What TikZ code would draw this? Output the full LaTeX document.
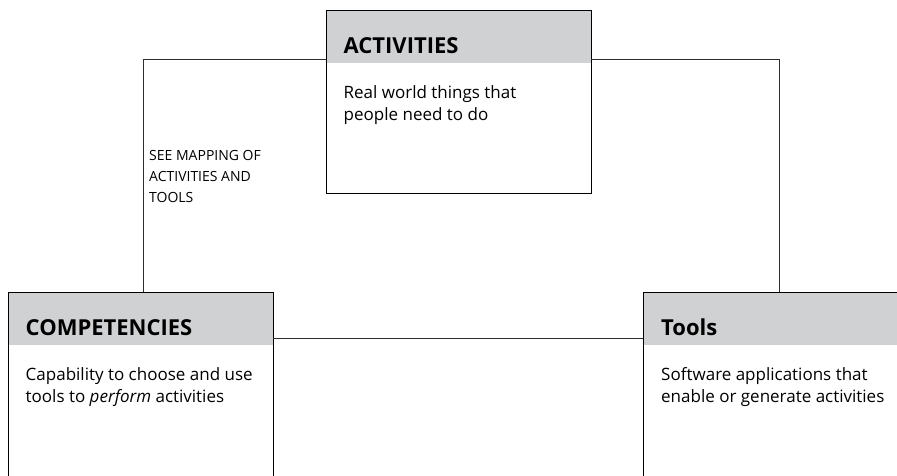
\documentclass[tikz,border=0pt]{standalone}
\usepackage{fontspec}
\setmainfont{Open Sans}
\usetikzlibrary{positioning}
\definecolor{headgray}{RGB}{208,209,211}
\definecolor{linkgray}{RGB}{45,45,45}

\begin{document}
\begin{tikzpicture}[x=1pt, y=-1pt,
  headbox/.style={fill=headgray, text width=229pt, align=left,
    inner xsep=18pt, inner ysep=0pt, text height=43pt, text depth=10pt,
    anchor=north west, font=\fontsize{22}{26}\selectfont\bfseries},
  frame/.style={draw, line width=1pt, minimum width=265pt, inner sep=0pt,
    anchor=north west},
  bodytext/.style={align=left, inner sep=0pt, font=\fontsize{17}{22}\selectfont},
  note/.style={align=left, inner sep=0pt, font=\fontsize{14}{21}\selectfont},
  link/.style={draw=linkgray, line width=0.9pt}]
  \useasboundingbox (0,0) rectangle (897,475);
  \clip (0,0) rectangle (897,475);
  % activities
  \node[headbox] (actHead) at (325.5,10) {ACTIVITIES};
  \node[frame, minimum height=183pt] (act) at (actHead.north west) {};
  \node[bodytext, below right=22pt and 18pt of actHead.south west] (actText)
    {Real world things that\\people need to do};
  % competencies
  \node[headbox] (compHead) at (7.5,292) {COMPETENCIES};
  \node[frame, minimum height=300pt] (comp) at (compHead.north west) {};
  \node[bodytext, below right=22pt and 18pt of compHead.south west] (compText)
    {Capability to choose and use\\tools to \textit{perform} activities};
  % tools
  \node[headbox] (toolsHead) at (643,292) {Tools};
  \node[frame, minimum height=300pt] (tools) at (toolsHead.north west) {};
  \node[bodytext, below right=22pt and 18pt of toolsHead.south west] (toolsText)
    {Software applications that\\enable or generate activities};
  % links
  \draw[link] ([yshift=4pt]actHead.south west) -| ([xshift=3pt]compHead.north);
  \draw[link] ([yshift=4pt]actHead.south east) -| ([xshift=4pt]toolsHead.north);
  \draw[link] ([yshift=7pt]compHead.south east) -- ([yshift=7pt]toolsHead.south west);
  \node[note, anchor=north west] (mapNote) at (149,150)
    {SEE MAPPING OF\\ACTIVITIES AND\\TOOLS};
\end{tikzpicture}
\end{document}
